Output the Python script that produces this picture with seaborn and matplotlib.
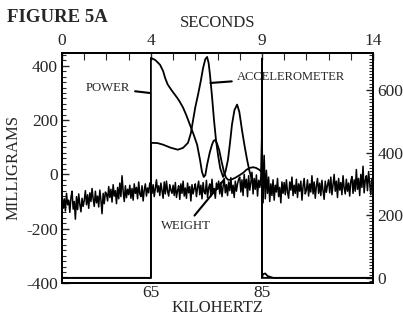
import seaborn as sns
import matplotlib.pyplot as plt
from matplotlib.ticker import MultipleLocator

# Weight signal (milligrams, left axis), one reading every 0.05 s
weight_step = 0.05
weight_mg = [
    -80, -125, -90, -135, -70, -112, -95, -140, -85, -62, -128, -100, -165, -82, -130, -72, -110, -138, -88, -118,
    -95, -60, -112, -75, -125, -68, -100, -52, -90, -118, -62, -105, -80, -120, -58, -95, -145, -70, -108, -65,
    -72, -98, -45, -85, -55, -102, -38, -80, -60, -108, -48, -90, -32, -82, -5, -62, -100, -42, -86, -55,
    -75, -40, -88, -52, -95, -35, -70, -48, -90, -28, -72, -82, -42, -98, -58, -35, -80, -50, -68, -32,
    -30, -70, -38, -82, -50, -20, -65, -42, -78, -32, -60, -88, -28, -72, -25, -62, -80, -38, -58, -70,
    -40, -78, -30, -85, -60, -42, -92, -35, -70, -25, -80, -50, -88, -32, -68, -45, -98, -38, -72, -52,
    -35, -82, -48, -25, -75, -40, -90, -30, -65, -72, -22, -85, -50, -35, -80, -18, -68, -52, -88, -32,
    -55, -25, -72, -30, -82, -45, -15, -68, -38, -78, -28, -60, -12, -70, -40, -85, -25, -62, -35, -18,
    -10, -65, -20, -78, 0, -50, -18, -82, -5, -58, -30, 8, -72, -15, -55, -2, -80, -22, -48, -8,
    160, -105, 70, -90, 15, -70, -10, -100, -35, -78, -20, -95, -40, -65, -15, -82, -48, -105, -28, -70,
    -30, -75, -20, -65, -88, -28, -58, -10, -78, -40, -70, -18, -85, -35, -62, -25, -95, -45, -15, -72,
    -58, -20, -80, -35, -65, -5, -72, -28, -88, -42, -15, -70, -32, -78, -22, -60, -92, -25, -66, -40,
    -20, -68, -10, -75, -38, 0, -62, -25, -85, -15, -58, -30, -75, -5, -50, -72, -18, -62, -32, -80,
    -25, -8, -70, -20, -62, 18, -55, -15, -78, 0, -48, 30, -68, -22, -5, -60, 10, -32, -75, -15,
    -45,
]
weight_sec = [i * weight_step for i in range(len(weight_mg))]

# Power (right axis)
power_sec = [0, 4.0, 4.0, 4.2, 4.41, 4.55, 4.64, 4.75, 4.86, 5.0, 5.18, 5.3, 5.45, 5.6, 5.76,
             5.92, 6.08, 6.21, 6.3, 6.38, 6.45, 6.53, 6.65, 6.75, 6.82, 6.89, 6.97, 7.07,
             7.18, 7.29, 7.38, 7.47, 7.6, 7.79, 8.0, 8.15, 8.3, 8.46, 8.6, 8.73, 8.88, 8.99,
             9.0, 9.0, 14]
power_val = [0, 0, 702, 695, 680, 660, 638, 618, 606, 592, 575, 562, 543, 518, 488,
             458, 425, 377, 338, 322, 328, 361, 400, 425, 437, 440, 430, 409,
             372, 338, 320, 313, 313, 319, 328, 335, 345, 351, 353, 351, 345, 338,
             700, 0, 0]

# Accelerometer (right axis)
accel_sec = [0, 4.0, 4.0, 4.3, 4.55, 4.9, 5.22, 5.45, 5.67, 5.80, 5.90, 6.0, 6.12, 6.25,
             6.35, 6.45, 6.53, 6.6, 6.66, 6.75, 6.84, 6.93, 7.02, 7.12, 7.25, 7.36, 7.47,
             7.56, 7.65, 7.76, 7.88, 7.98, 8.10, 8.22, 8.33, 8.44, 8.55, 8.7, 8.83, 9.0,
             9.0, 9.05, 9.15, 9.25, 9.5, 14]
accel_val = [0, 0, 431, 430, 425, 415, 409, 415, 431, 462, 504, 545, 584, 630,
             670, 698, 705, 685, 648, 580, 504, 440, 393, 350, 322, 340, 377,
             430, 489, 535, 553, 530, 472, 420, 377, 340, 313, 300, 297, 297,
             0, 12, 14, 6, 0, 0]

sec_ticks = [0, 4, 9, 14]
khz_ticks = [4, 9]
khz_labels = ["65", "85"]

sns.set_style("white")
plt.rcParams['font.family'] = ['Liberation Serif', 'DejaVu Serif']
plt.rcParams['axes.unicode_minus'] = False

fig = plt.figure(figsize=(4.03, 3.2), dpi=100)
ax = fig.add_axes([0.154, 0.116, 0.7716, 0.7188])
ax2 = ax.twinx()

sns.lineplot(x=weight_sec, y=weight_mg, ax=ax, color='black', linewidth=1.1,
             estimator=None, sort=False)
sns.lineplot(x=power_sec, y=power_val, ax=ax2, color='black', linewidth=1.3,
             estimator=None, sort=False)
sns.lineplot(x=accel_sec, y=accel_val, ax=ax2, color='black', linewidth=1.3,
             estimator=None, sort=False)

ax.set_xlim(0, 14)
ax.set_ylim(-400, 448)
ax2.set_ylim(-16, 718)

# bottom axis: kilohertz
ax.set_xticks(khz_ticks)
ax.set_xticklabels(khz_labels)
ax.xaxis.set_minor_locator(MultipleLocator(1))
ax.set_xlabel("KILOHERTZ", fontsize=12, labelpad=-1)

# left axis: milligrams
ax.set_yticks([-400, -200, 0, 200, 400])
ax.yaxis.set_minor_locator(MultipleLocator(20))
ax.set_ylabel("MILLIGRAMS", fontsize=12, labelpad=3)

# right axis
ax2.set_yticks([0, 200, 400, 600])
ax2.yaxis.set_minor_locator(MultipleLocator(10))
ax2.set_ylabel("")

# top axis: seconds
secax = ax.secondary_xaxis('top')
secax.set_xticks(sec_ticks)
secax.xaxis.set_minor_locator(MultipleLocator(1))
secax.set_xlabel("SECONDS", fontsize=12, labelpad=4)

for a in (ax, ax2, secax):
    a.tick_params(which='both', direction='in', labelsize=12.5, pad=3)
    a.tick_params(which='major', length=5, width=1)
    a.tick_params(which='minor', length=3, width=0.8)
ax.tick_params(axis='x', which='minor', length=5)
secax.tick_params(which='minor', length=5)
ax.tick_params(axis='x', pad=1.5)

for a in (ax, ax2):
    for s in a.spines.values():
        s.set_linewidth(1.3)
        s.set_color('black')
secax.spines['top'].set_linewidth(1.3)

lead = dict(arrowstyle='-', color='black', linewidth=1.5, shrinkA=1, shrinkB=0)
ax.annotate("POWER", xy=(3.96, 300), xytext=(3.08, 318), ha='right', va='center',
            fontsize=9.2, arrowprops=lead)
ax.annotate("ACCELEROMETER", xy=(6.68, 337), xytext=(7.85, 359), ha='left', va='center',
            fontsize=9, arrowprops=lead)
ax.annotate("WEIGHT", xy=(7.29, -20), xytext=(6.7, -190), ha='right', va='center',
            fontsize=9.2, arrowprops=lead)

fig.text(0.017, 0.944, "FIGURE 5A", fontsize=13.5, fontweight='bold', ha='left', va='center')

fig.savefig("out.png", dpi=100)
